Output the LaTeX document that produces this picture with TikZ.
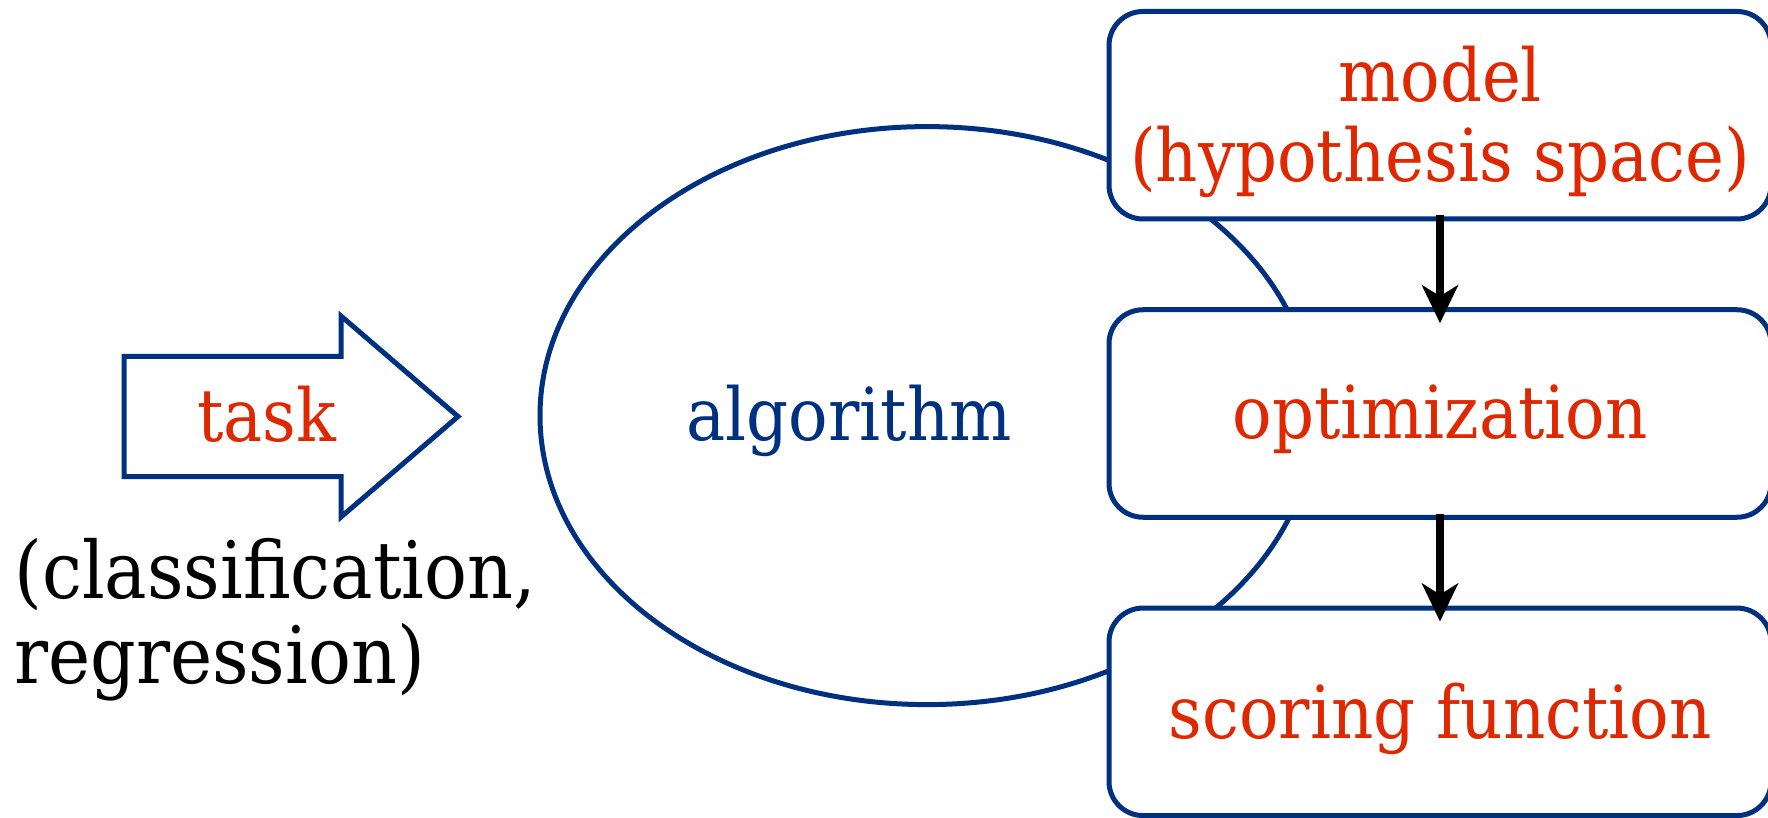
\documentclass[tikz,border=0pt]{standalone}
\usepackage{fontspec}
\setmainfont{DejaVu Serif Condensed}
\usetikzlibrary{shapes.geometric,arrows.meta,calc}
\definecolor{navy}{RGB}{0,48,128}
\definecolor{flame}{RGB}{224,40,0}

\begin{document}
\begin{tikzpicture}[x=0.5pt,y=-0.5pt,
  outline/.style={draw=navy, line width=2.5pt},
  txt/.style={inner sep=0pt, font=\fontsize{36.5}{40}\selectfont},
  stage/.style={outline, fill=white, rounded corners=17pt,
    minimum width=331pt, minimum height=103.75pt, inner sep=0pt,
    align=center, text=flame, font=\fontsize{36.5}{40}\selectfont},
  flow/.style={line width=3.6pt, -{Stealth[length=19pt,width=18pt,inset=5.5pt]}}]

\useasboundingbox (0,0) rectangle (1768,818);

% the learning algorithm
\node[outline, ellipse, minimum width=387pt, minimum height=289pt, inner sep=0pt]
  (algo) at (927,415.6) {};
\node[txt, text=navy, anchor=base] (algotext) at (849,440) {algorithm};

% task arrow
\draw[outline, line join=miter]
  (124,356.5) -- (341,356.5) -- (341,316) -- (458,416.5)
  -- (341,517) -- (341,476.5) -- (124,476.5) -- cycle;
\node[txt, text=flame, anchor=base] (task) at (266.5,441.7) {task};
% base anchor of a two-line node sits on its last line
\node[anchor=base west, align=left, inner sep=0pt,
  font=\fontsize{39.6}{42.5}\selectfont] (kinds) at (14,683)
  {(classification,\\regression)};

% components
\node[stage, text height=66.45pt, text depth=0pt] (model) at (1440,115.25)
  {model\\(hypothesis space)};
\node[stage, text height=24.8pt, text depth=0pt] (optim) at (1440,413.5)
  {optimization};
\node[stage, text height=26.8pt, text depth=0pt] (score) at (1440,711.8)
  {scoring function};

\draw[flow] ($(model.south)+(0,-6)$) -- ($(optim.north)+(0,16)$);
\draw[flow] ($(optim.south)+(0,-6)$) -- ($(score.north)+(0,16)$);
\end{tikzpicture}
\end{document}
